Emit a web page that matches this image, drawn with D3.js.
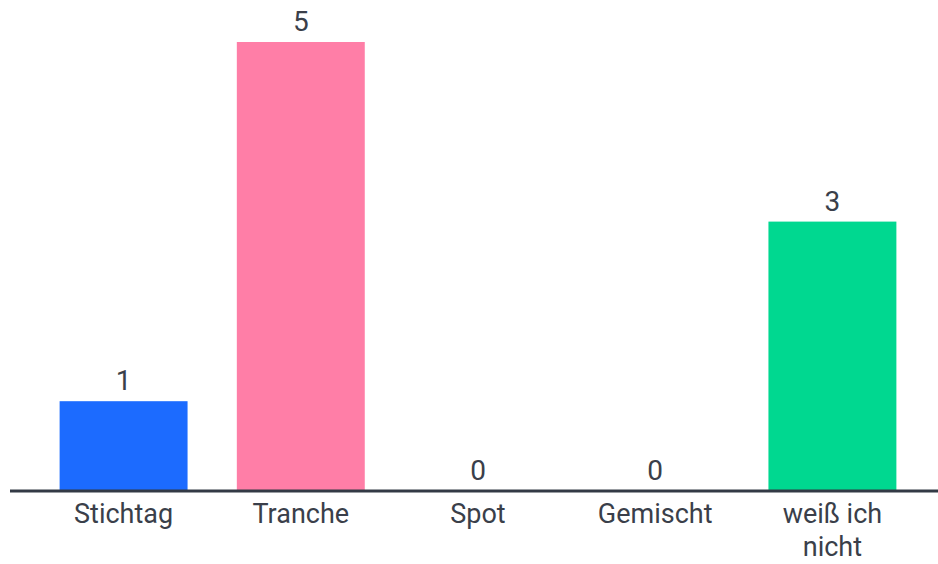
<!DOCTYPE html>
<html>
<head>
<meta charset="utf-8">
<script src="https://cdn.jsdelivr.net/npm/d3@7"></script>
<style>
  html, body { margin: 0; padding: 0; background: #fff; }
  svg { display: block; }
</style>
</head>
<body>
<svg id="chart" width="938" height="564"></svg>
<script>
  // Daten
  var categories = ["Stichtag", "Tranche", "Spot", "Gemischt", "weiß ich nicht"];
  var values = [1, 5, 0, 0, 3];
  var colors = ["#1c6bff", "#ff7ea7", "#00d890", "#00d890", "#00d890"];

  var svg = d3.select("#chart"),
      width = +svg.attr("width"),
      height = +svg.attr("height");

  var x = d3.scaleBand()
      .domain(categories)
      .range([10, 946])
      .paddingInner(0.278)
      .paddingOuter(0.28);

  var y = d3.scaleLinear()
      .domain([0, 5])
      .range([491, 42]);

  var font = "Roboto, 'Noto Sans', sans-serif";

  // Balken
  svg.selectAll("rect.bar")
    .data(values)
    .enter().append("rect")
      .attr("class", "bar")
      .attr("x", function(d, i) { return x(categories[i]); })
      .attr("y", function(d) { return y(d); })
      .attr("width", x.bandwidth())
      .attr("height", function(d) { return y(0) - y(d); })
      .attr("fill", function(d, i) { return colors[i]; });

  // Werte über den Balken
  svg.selectAll("text.value")
    .data(values)
    .enter().append("text")
      .attr("class", "value")
      .attr("x", function(d, i) { return x(categories[i]) + x.bandwidth() / 2; })
      .attr("y", function(d) { return y(d) - 11; })
      .attr("text-anchor", "middle")
      .attr("font-family", font)
      .attr("font-size", 28)
      .attr("fill", "#3a3f4a")
      .text(function(d) { return d; });

  // x-Achse
  var axis = svg.append("g")
      .attr("transform", "translate(0," + y(0) + ")")
      .call(d3.axisBottom(x).tickSize(0).tickPadding(0));

  axis.select(".domain").remove();
  axis.append("line")
      .attr("x1", 10).attr("x2", width)
      .attr("y1", 0).attr("y2", 0)
      .attr("stroke", "#333a45")
      .attr("stroke-width", 3);

  axis.selectAll(".tick text")
      .attr("font-family", font)
      .attr("font-size", 27)
      .attr("fill", "#3a3f4a")
      .each(function(d) {
        var t = d3.select(this), words = d.split(" ");
        if (words.length > 2) {
          t.text(null);
          t.append("tspan").attr("x", 0).attr("dy", "1.2em").text(words.slice(0, 2).join(" "));
          t.append("tspan").attr("x", 0).attr("dy", "1.2em").text(words.slice(2).join(" "));
        } else {
          t.attr("dy", "1.2em");
        }
      });
</script>
</body>
</html>
